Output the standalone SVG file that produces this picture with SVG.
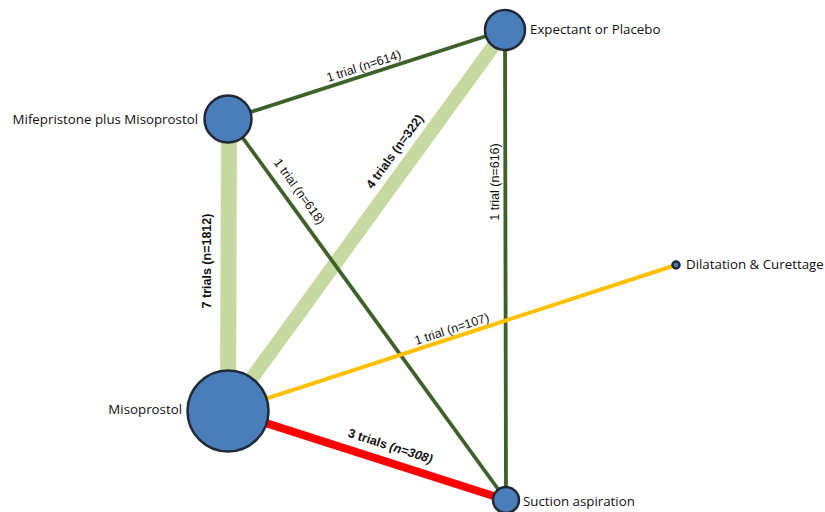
<svg xmlns="http://www.w3.org/2000/svg" width="825" height="512" viewBox="0 0 825 512">
  <style>
    .edge { fill: none; stroke-linecap: butt; }
    .dark { stroke: #3d6128; stroke-width: 3.8; }
    .light { stroke: #c5d9a0; }
    .gold { stroke: #ffc000; stroke-width: 4; }
    .red { stroke: #ff0000; stroke-width: 8; }
    .node { fill: #4a7ebb; stroke: #1f2a36; stroke-width: 2.5; }
    .nlabel { font-family: "Open Sans", "Liberation Sans", sans-serif; font-size: 13.3px; fill: #111; }
    .elabel { font-family: "Liberation Sans", Arial, sans-serif; font-size: 12.5px; fill: #111; }
    .bold { font-weight: bold; }
  </style>
  <rect width="825" height="512" fill="#ffffff"/>

  <!-- connectors -->
  <g id="connectors">
    <line class="edge light" x1="229" y1="120" x2="228" y2="411" stroke-width="16"/>
    <line class="edge light" x1="228" y1="411" x2="505" y2="30" stroke-width="14"/>
    <line class="edge dark" x1="229" y1="119" x2="505" y2="30"/>
    <line class="edge dark" x1="229" y1="119" x2="506" y2="500"/>
    <line class="edge dark" x1="505" y1="30" x2="506" y2="500"/>
    <line class="edge gold" x1="228" y1="411" x2="676" y2="265"/>
    <line class="edge red" x1="228" y1="411" x2="506" y2="500"/>

    <text class="elabel" transform="translate(365,70) rotate(-17.9)" text-anchor="middle">1 trial (n=614)</text>
    <text class="elabel bold" transform="translate(211,261) rotate(-90)" text-anchor="middle">7 trials (n=1812)</text>
    <text class="elabel bold" transform="translate(398,154) rotate(-54)" text-anchor="middle">4 trials (n=322)</text>
    <text class="elabel" transform="translate(296,194) rotate(54.1)" text-anchor="middle">1 trial (n=618)</text>
    <text class="elabel" transform="translate(499,182) rotate(-90)" text-anchor="middle">1 trial (n=616)</text>
    <text class="elabel" transform="translate(453,333) rotate(-18)" text-anchor="middle">1 trial (n=107)</text>
    <text class="elabel bold" transform="translate(389,450) rotate(17.8)" text-anchor="middle">3 trials <tspan font-style="italic">(n=308)</tspan></text>
  </g>

  <!-- nodes -->
  <g id="node-expectant">
    <circle class="node" cx="505" cy="30" r="20"/>
    <text class="nlabel" x="530" y="34">Expectant or Placebo</text>
  </g>
  <g id="node-mifepristone">
    <circle class="node" cx="228" cy="119" r="23.5"/>
    <text class="nlabel" x="198" y="124" text-anchor="end">Mifepristone plus Misoprostol</text>
  </g>
  <g id="node-misoprostol">
    <circle class="node" cx="228" cy="411" r="40.5"/>
    <text class="nlabel" x="182" y="414" text-anchor="end">Misoprostol</text>
  </g>
  <g id="node-suction">
    <circle class="node" cx="506" cy="500" r="13"/>
    <text class="nlabel" x="523" y="506">Suction aspiration</text>
  </g>
  <g id="node-dc">
    <circle class="node" cx="676" cy="265" r="3.5" stroke-width="2"/>
    <text class="nlabel" x="686" y="269">Dilatation &amp; Curettage</text>
  </g>
</svg>
